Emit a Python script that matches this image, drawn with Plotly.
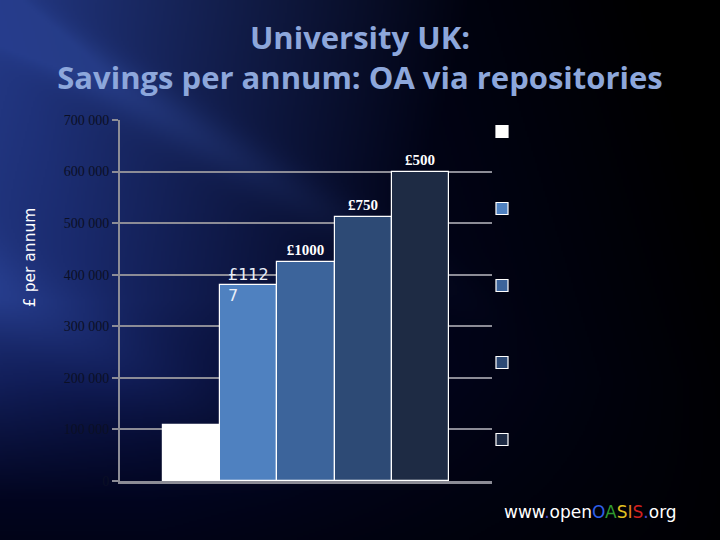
import base64, struct, zlib
import numpy as np
import plotly.graph_objects as go

# ---- data ----
categories = ["Current", "£1127", "£1000", "£750", "£500"]
savings = [108000, 380000, 424000, 511000, 600000]
bar_labels = ["", "£112<br>7", "£1000", "£750", "£500"]
bar_colors = ["#FFFFFF", "#4F81C0", "#3C649B", "#2D4A75", "#1E2B44"]
tick_vals = [0, 100000, 200000, 300000, 400000, 500000, 600000, 700000]
tick_text = ["0", "100 000", "200 000", "300 000", "400 000", "500 000", "600 000", "700 000"]


# ---- background image (gradient), encoded as PNG ----
def make_bg(w=360, h=270):
    ys, xs = np.mgrid[0:h, 0:w].astype(float)
    X = xs * 720.0 / w
    Y = ys * 540.0 / h
    a = np.clip(1 - (X - 0.3 * Y) / 650.0, 0, 1)
    a = a * np.clip(1 - (Y - 380) / 300.0, 0.45, 1)
    b = np.clip(1 - (X + 0.25 * Y) / 470.0, 0, 1) * (1 - np.clip((Y - 300) / 200.0, 0, 1))
    streak = 0.45 * np.exp(-((Y - 0.6 * X - 15) / 28.0) ** 2) * np.clip(1 - X / 520.0, 0, 1)
    streak2 = 0.25 * np.exp(-((Y - 0.55 * X - 290) / 45.0) ** 2) * np.clip(1 - X / 300.0, 0, 1)
    b = np.clip(b + streak + streak2, 0, 1.1)
    base = np.array([3, 8, 52], float)
    hi = np.array([32, 48, 80], float)
    img = a[..., None] * base + b[..., None] * hi
    img = np.clip(img, 0, 255).astype(np.uint8)
    raw = b"".join(b"\x00" + img[r].tobytes() for r in range(h))

    def chunk(t, d):
        c = struct.pack(">I", len(d)) + t + d
        return c + struct.pack(">I", zlib.crc32(t + d) & 0xFFFFFFFF)

    png = b"\x89PNG\r\n\x1a\n" + chunk(b"IHDR", struct.pack(">IIBBBBB", w, h, 8, 2, 0, 0, 0))
    png += chunk(b"IDAT", zlib.compress(raw, 9)) + chunk(b"IEND", b"")
    return "data:image/png;base64," + base64.b64encode(png).decode()


fig = go.Figure()
for i, (cat, val, col) in enumerate(zip(categories, savings, bar_colors)):
    lab = bar_labels[i]
    plain = "<br>" not in lab
    fig.add_trace(go.Bar(
        x=[cat], y=[val], name="",
        marker=dict(color=col, line=dict(color="white", width=1.2)),
        text=[lab] if plain else None,
        textposition="outside", cliponaxis=False,
        textfont=dict(family="Liberation Serif", size=15, color="white", weight="bold"),
        legendgroup=f"g{i}", showlegend=True, hoverinfo="skip",
    ))
    if not plain:
        fig.add_annotation(x=cat, y=val, text=lab, showarrow=False, align="left",
                           xanchor="center", yanchor="middle",
                           font=dict(family="DejaVu Sans", size=16, color="#E8EEF8"))

# y-axis title
fig.add_annotation(xref="paper", yref="paper", x=-0.242, y=0.62, textangle=-90,
                   xanchor="center", yanchor="middle", showarrow=False, text="£ per annum",
                   font=dict(family="DejaVu Sans", size=15.5, color="white"))

fig.add_annotation(
    xref="paper", yref="paper", x=1.266, y=-0.086, xanchor="center", yanchor="middle",
    showarrow=False,
    text=("www<span style='color:#4a4ad0'>.</span>open"
          "<span style='color:#2f5fe8'>O</span><span style='color:#2f9a2f'>A</span>"
          "<span style='color:#e0c020'>S</span><span style='color:#e08020'>I</span>"
          "<span style='color:#d02020'>S</span><span style='color:#4a4ad0'>.</span>org"),
    font=dict(family="DejaVu Sans", size=17, color="white"),
)

fig.update_layout(
    width=720, height=540,
    margin=dict(l=120, r=228, t=120, b=59),
    paper_bgcolor="#000010", plot_bgcolor="rgba(0,0,0,0)",
    barmode="relative", bargap=0,
    images=[dict(source=make_bg(), xref="paper", yref="paper", x=-120 / 372, y=1 + 120 / 361,
                 sizex=720 / 372, sizey=540 / 361, xanchor="left", yanchor="top",
                 sizing="stretch", layer="below")],
    title=dict(text="University UK:<br>Savings per annum: OA via repositories",
               x=0.5, xanchor="center", y=1 - 49 / 540, yanchor="middle",
               font=dict(family="Open Sans", size=31, color="#8DA7DB", weight="bold")),
    showlegend=True,
    legend=dict(x=1.0 - 10 / 372, xanchor="left", y=1.0 + 3 / 361, yanchor="top",
                tracegroupgap=58, maxheight=440,
                bgcolor="rgba(0,0,0,0)", font=dict(size=12, color="white")),
    xaxis=dict(range=[-1.25, 5.25], showticklabels=False, showgrid=False,
               showline=True, linecolor="#8C8C96", linewidth=3, ticks="", zeroline=False),
    yaxis=dict(range=[0, 700000], tickvals=tick_vals, ticktext=tick_text,
               showgrid=True, gridcolor="#8C8C96", gridwidth=2, zeroline=False,
               showline=True, linecolor="#8C8C96", linewidth=2,
               ticks="outside", ticklen=6, tickwidth=2, tickcolor="#8C8C96",
               tickfont=dict(family="Liberation Serif", size=14, color="#0B0F25")),
)

fig.write_html("out.html")
